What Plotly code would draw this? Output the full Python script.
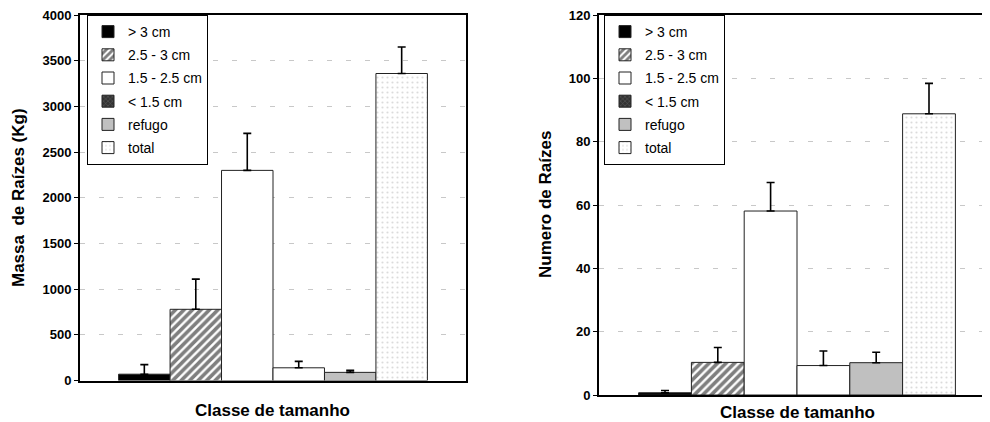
import plotly.graph_objects as go

# ---- data ----
categories = ["> 3 cm", "2.5 - 3 cm", "1.5 - 2.5 cm", "< 1.5 cm", "refugo", "total"]
group_label = ["Classe de tamanho"]
massa = [70, 780, 2300, 140, 90, 3360]
massa_err = [105, 330, 405, 70, 22, 290]
numero = [0.7, 10.3, 58.1, 9.3, 10.2, 88.8]
numero_err = [0.7, 4.7, 9.0, 4.6, 3.3, 9.6]
massa_ticks = [0, 500, 1000, 1500, 2000, 2500, 3000, 3500, 4000]
numero_ticks = [0, 20, 40, 60, 80, 100, 120]

FONT = "Liberation Sans, Arial, sans-serif"
OFF = 8                      # page body margin offset
W, H = 990 - OFF, 422 - OFF
TOP, BOT = 15 - OFF, 395 - OFF   # plot area rows in figure pixels


def px_x(x):
    return (x - OFF) / W


def px_y(y):
    return (BOT - (y - OFF)) / (BOT - TOP)


def bar_style(i):
    edge = dict(color="#222", width=1)
    if i == 0:
        return dict(color="black", line=edge)
    if i == 1:
        return dict(color="white", line=edge,
                    pattern=dict(shape="/", fgcolor="black", bgcolor="white", size=6, solidity=0.6))
    if i == 4:
        return dict(color="#c0c0c0", line=edge)
    if i == 5:
        return dict(color="white", line=edge,
                    pattern=dict(shape=".", fgcolor="#b8b8b8", bgcolor="white", size=5, solidity=0.15))
    return dict(color="white", line=edge)


proxy_style = dict(color="#333", line=dict(color="#222", width=1),
                   pattern=dict(shape="x", fgcolor="#888", bgcolor="#333", size=4, solidity=0.3))

fig = go.Figure()

for (vals, errs, xa, ya, xp, yp, leg) in [
    (massa, massa_err, "x", "y", "x3", "y3", "legend"),
    (numero, numero_err, "x2", "y2", "x4", "y4", "legend2"),
]:
    for i, name in enumerate(categories):
        fig.add_trace(go.Bar(
            x=group_label, y=[vals[i]], name=name,
            xaxis=xa, yaxis=ya, legend=leg, legendgroup=leg + str(i), legendrank=i + 1,
            showlegend=(i != 3),
            marker=bar_style(i),
            error_y=dict(type="data", array=[errs[i]], arrayminus=[0], symmetric=False,
                         color="black", thickness=1.6, width=4),
            hoverinfo="name+y",
        ))
    # legend proxy for "< 1.5 cm" (legend swatch differs from its bar)
    fig.add_trace(go.Bar(
        x=group_label, y=[None], name=categories[3],
        xaxis=xp, yaxis=yp, legend=leg, legendgroup=leg + "3", legendrank=4,
        marker=proxy_style, showlegend=True, hoverinfo="skip",
    ))

grid = dict(showgrid=True, gridcolor="#c8c8c8", griddash="5px,14px", gridwidth=1)
tickfont = dict(family=FONT, size=13, color="black")


def bold_ticks(vals):
    return ["<b>%d</b>" % v for v in vals]


legend_common = dict(yanchor="top", xanchor="left", y=1,
                     bgcolor="white", bordercolor="black", borderwidth=1,
                     font=dict(family=FONT, size=14, color="black"),
                     tracegroupgap=2, traceorder="grouped")

fig.update_layout(
    width=W, height=H,
    margin=dict(l=0, r=0, t=TOP, b=H - BOT),
    paper_bgcolor="white", plot_bgcolor="white",
    barmode="group", bargap=0.2, bargroupgap=0,
    font=dict(family=FONT, color="black"),
    xaxis=dict(domain=[px_x(80), px_x(466)], anchor="y", showticklabels=False, ticks="",
               showline=True, linecolor="black", linewidth=2, mirror=True,
               showgrid=False, range=[-0.5, 0.5]),
    yaxis=dict(domain=[px_y(380.6), 1], anchor="x", range=[0, 4000],
               tickvals=massa_ticks, ticktext=bold_ticks(massa_ticks),
               ticklabeloverflow="allow",
               ticks="outside", ticklen=4, tickcolor="black", tickwidth=1,
               showline=True, linecolor="black", linewidth=2, mirror=True,
               zeroline=False, tickfont=tickfont, **grid),
    xaxis2=dict(domain=[px_x(599), 1], anchor="y2", showticklabels=False, ticks="",
                showline=True, linecolor="black", linewidth=2, mirror=True,
                showgrid=False, range=[-0.5, 0.5 - 5 / 396]),
    yaxis2=dict(domain=[0, 1], anchor="x2", range=[0, 120],
                tickvals=numero_ticks, ticktext=bold_ticks(numero_ticks),
                ticklabeloverflow="allow",
                ticks="outside", ticklen=4, tickcolor="black", tickwidth=1,
                showline=True, linecolor="black", linewidth=2, mirror=False,
                zeroline=False, tickfont=tickfont, **grid),
    xaxis3=dict(overlaying="x", anchor="y3", visible=False, range=[-0.5, 0.5]),
    yaxis3=dict(overlaying="y", anchor="x3", visible=False, range=[0, 1]),
    xaxis4=dict(overlaying="x2", anchor="y4", visible=False, range=[-0.5, 0.5]),
    yaxis4=dict(overlaying="y2", anchor="x4", visible=False, range=[0, 1]),
    legend=dict(x=px_x(87), **legend_common),
    legend2=dict(x=px_x(604), **legend_common),
    showlegend=True,
)

title_font = dict(family=FONT, size=17, color="black", weight="bold")
fig.add_annotation(text="<b>Classe de tamanho</b>", xref="paper", yref="paper",
                   x=px_x(272), y=px_y(410), showarrow=False, font=title_font,
                   xanchor="center", yanchor="middle")
fig.add_annotation(text="<b>Classe de tamanho</b>", xref="paper", yref="paper",
                   x=px_x(797), y=px_y(412), showarrow=False, font=title_font,
                   xanchor="center", yanchor="middle")
fig.add_annotation(text="<b>Massa  de Raízes (Kg)</b>", xref="paper", yref="paper",
                   x=px_x(18), y=px_y(198), showarrow=False, font=title_font,
                   textangle=-90, xanchor="center", yanchor="middle")
fig.add_annotation(text="<b>Numero de Raízes</b>", xref="paper", yref="paper",
                   x=px_x(545), y=px_y(205), showarrow=False, font=title_font,
                   textangle=-90, xanchor="center", yanchor="middle")

fig.write_html("out.html")
